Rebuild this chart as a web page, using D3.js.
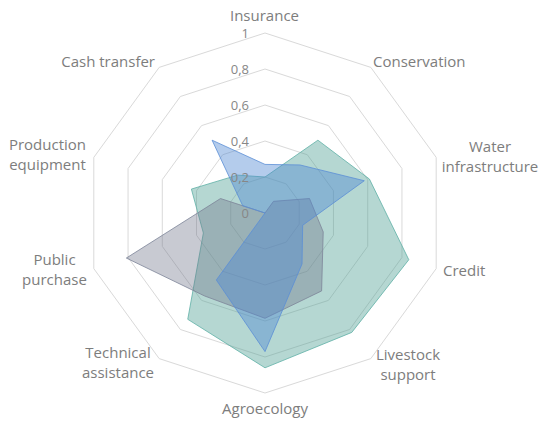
<!DOCTYPE html>
<html>
<head>
<meta charset="utf-8">
<script src="https://cdn.jsdelivr.net/npm/d3@7"></script>
<style>
  html, body { margin: 0; padding: 0; background: #ffffff; }
  svg { display: block; }
  text { font-family: "Open Sans", "DejaVu Sans", sans-serif; }
</style>
</head>
<body>
<svg id="chart" width="542" height="423"></svg>
<script>
// Policy instruments, clockwise from the top
const categories = [
  "Insurance", "Conservation", "Water infrastructure", "Credit",
  "Livestock support", "Agroecology", "Technical assistance",
  "Public purchase", "Production equipment", "Cash transfer"
];

// Scores per instrument (0 to 1)
const tealValues = [0.20, 0.50, 0.61, 0.84, 0.82, 0.86, 0.73, 0.36, 0.43, 0.26];
const grayValues = [0.00, 0.08, 0.26, 0.34, 0.535, 0.585, 0.57, 0.81, 0.26, 0.00];
const blueValues = [0.27, 0.33, 0.58, 0.22, 0.35, 0.77, 0.46, 0.00, 0.13, 0.50];

const tickValues = [0, 0.2, 0.4, 0.6, 0.8, 1];
const tickLabels = ["0", "0,2", "0,4", "0,6", "0,8", "1"];

// ---- layout ----
const width = 542, height = 423;
const cx = 265, cy = 213;
const outer = 180;

const svg = d3.select("#chart");
const g = svg.append("g").attr("transform", `translate(${cx},${cy})`);

const r = d3.scaleLinear().domain([0, 1]).range([0, outer]);
const angle = d3.scaleLinear().domain([0, categories.length]).range([0, 2 * Math.PI]);

const pointAt = (i, v) => {
  const a = angle(i);
  return [r(v) * Math.sin(a), -r(v) * Math.cos(a)];
};

// Decagon grid rings
const ringLine = d3.line().curve(d3.curveLinearClosed);
g.append("g").selectAll("path")
  .data(tickValues.filter(t => t > 0))
  .join("path")
  .attr("d", t => ringLine(categories.map((_, i) => pointAt(i, t))))
  .attr("fill", "none")
  .attr("stroke", "#d9d9d9")
  .attr("stroke-width", 1);

// Series areas
const radial = d3.lineRadial()
  .angle((d, i) => angle(i))
  .radius(d => r(d))
  .curve(d3.curveLinearClosed);

const seriesList = [
  { values: tealValues, fill: "#4f9f94", stroke: "#5fb0a6", fo: 0.42 },
  { values: grayValues, fill: "#6e7489", stroke: "#7d8498", fo: 0.38 },
  { values: blueValues, fill: "#4d86d2", stroke: "#5b8fd6", fo: 0.42 }
];

g.append("g").selectAll("path")
  .data(seriesList)
  .join("path")
  .attr("d", s => radial(s.values))
  .attr("fill", s => s.fill)
  .attr("fill-opacity", s => s.fo)
  .attr("stroke", s => s.stroke)
  .attr("stroke-opacity", 0.8)
  .attr("stroke-width", 1)
  .attr("stroke-linejoin", "miter");

// Radial tick labels along the top axis
g.append("g").selectAll("text")
  .data(tickValues)
  .join("text")
  .attr("x", -16)
  .attr("y", d => -r(d))
  .attr("dy", "0.35em")
  .attr("text-anchor", "end")
  .attr("font-size", 13)
  .attr("fill", "#878787")
  .text((d, i) => tickLabels[i]);

// Category label placement (page coordinates of first baseline)
const labelLayout = [
  { x: 264.5, y: 20.5, anchor: "middle", lines: ["Insurance"] },
  { x: 373,   y: 67,   anchor: "start",  lines: ["Conservation"] },
  { x: 490,   y: 152,  anchor: "middle", lines: ["Water", "infrastructure"] },
  { x: 443,   y: 276,  anchor: "start",  lines: ["Credit"] },
  { x: 408,   y: 360,  anchor: "middle", lines: ["Livestock", "support"] },
  { x: 265,   y: 414,  anchor: "middle", lines: ["Agroecology"] },
  { x: 118,   y: 358,  anchor: "middle", lines: ["Technical", "assistance"] },
  { x: 54.5,  y: 265,  anchor: "middle", lines: ["Public", "purchase"] },
  { x: 47.5,  y: 150,  anchor: "middle", lines: ["Production", "equipment"] },
  { x: 155,   y: 67,   anchor: "end",    lines: ["Cash transfer"] }
];

const labels = svg.append("g").selectAll("text")
  .data(categories)
  .join("text")
  .attr("x", (d, i) => labelLayout[i].x)
  .attr("y", (d, i) => labelLayout[i].y)
  .attr("text-anchor", (d, i) => labelLayout[i].anchor)
  .attr("font-size", 15)
  .attr("fill", "#7d7d7d");

labels.each(function (d, i) {
  const L = labelLayout[i];
  d3.select(this).selectAll("tspan")
    .data(L.lines)
    .join("tspan")
    .attr("x", L.x)
    .attr("dy", (t, j) => j === 0 ? 0 : 20)
    .text(t => t);
});
</script>
</body>
</html>
